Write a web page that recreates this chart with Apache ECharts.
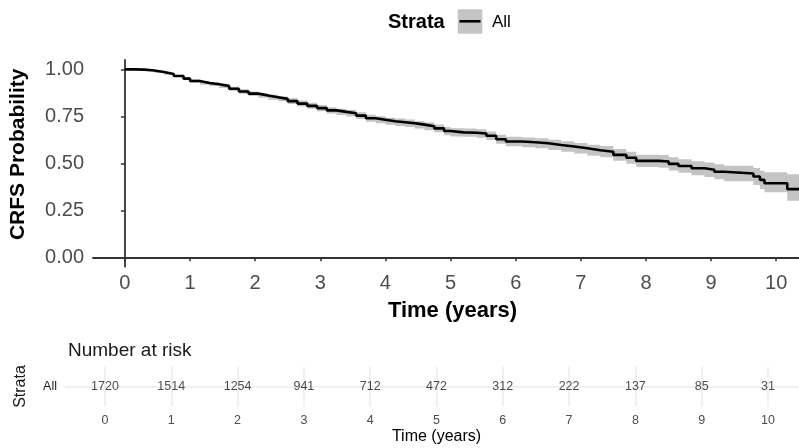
<!DOCTYPE html>
<html>
<head>
<meta charset="utf-8">
<title>CRFS</title>
<script src="https://cdn.jsdelivr.net/npm/echarts@6/dist/echarts.min.js"></script>
<style>
  html, body { margin: 0; padding: 0; background: #fff; }
  #main { width: 799px; height: 448px; }
</style>
</head>
<body>
<div id="main"></div>
<script>
// KM estimate (time in years, survival, 95% CI)
var times = [0, 0.15, 0.3, 0.45, 0.6, 0.75, 0.9, 1.0, 1.15, 1.3, 1.45, 1.6, 1.75, 1.9,
  2.05, 2.2, 2.35, 2.5, 2.65, 2.8, 2.95, 3.1, 3.25, 3.4, 3.55, 3.7, 3.85, 4.0,
  4.15, 4.3, 4.45, 4.6, 4.75, 4.9, 5.0, 5.2, 5.4, 5.55, 5.7, 5.85, 6.1, 6.3,
  6.5, 6.7, 6.9, 7.1, 7.3, 7.5, 7.7, 7.85, 8.2, 8.35, 8.5, 8.7, 8.9, 9.05,
  9.2, 9.65, 9.75, 9.82, 10.17, 10.4];
var surv = [1.000, 0.999, 0.994, 0.986, 0.976, 0.965, 0.951, 0.938, 0.928, 0.921, 0.912, 0.897, 0.882, 0.871,
  0.861, 0.852, 0.843, 0.831, 0.818, 0.806, 0.794, 0.782, 0.774, 0.767, 0.754, 0.740, 0.732, 0.724,
  0.719, 0.713, 0.706, 0.697, 0.686, 0.672, 0.665, 0.663, 0.659, 0.647, 0.628, 0.616, 0.612, 0.607,
  0.598, 0.590, 0.580, 0.570, 0.562, 0.545, 0.530, 0.513, 0.510, 0.497, 0.486, 0.474, 0.466, 0.455,
  0.446, 0.430, 0.412, 0.394, 0.363, 0.363];
var lower = [1.000, 0.998, 0.991, 0.982, 0.971, 0.959, 0.944, 0.929, 0.918, 0.911, 0.901, 0.886, 0.870, 0.859,
  0.849, 0.839, 0.830, 0.816, 0.802, 0.790, 0.777, 0.765, 0.757, 0.749, 0.736, 0.722, 0.713, 0.705,
  0.699, 0.693, 0.686, 0.676, 0.665, 0.650, 0.643, 0.641, 0.636, 0.624, 0.604, 0.591, 0.586, 0.581,
  0.571, 0.562, 0.552, 0.541, 0.532, 0.514, 0.498, 0.480, 0.476, 0.462, 0.450, 0.437, 0.428, 0.415,
  0.405, 0.385, 0.364, 0.346, 0.301, 0.301];
var upper = [1.000, 1.000, 0.997, 0.990, 0.981, 0.971, 0.958, 0.947, 0.938, 0.931, 0.923, 0.908, 0.894, 0.883,
  0.873, 0.865, 0.856, 0.846, 0.834, 0.822, 0.811, 0.799, 0.791, 0.785, 0.772, 0.758, 0.751, 0.743,
  0.739, 0.733, 0.726, 0.718, 0.707, 0.694, 0.687, 0.685, 0.682, 0.670, 0.652, 0.641, 0.638, 0.633,
  0.625, 0.618, 0.608, 0.599, 0.592, 0.576, 0.562, 0.546, 0.544, 0.532, 0.522, 0.511, 0.504, 0.495,
  0.487, 0.475, 0.460, 0.452, 0.442, 0.442];

// risk table
var riskTimes = [0, 1, 2, 3, 4, 5, 6, 7, 8, 9, 10];
var riskAll = [1720, 1514, 1254, 941, 712, 472, 312, 222, 137, 85, 31];

var yTicks = [0, 0.25, 0.5, 0.75, 1];
var xTicks = [0, 1, 2, 3, 4, 5, 6, 7, 8, 9, 10];

var font = "'Liberation Sans', Arial, sans-serif";
var chart = echarts.init(document.getElementById('main'), null, { renderer: 'canvas' });

// step outline of the confidence band, upper edge forward then lower edge back
function bandItem(params, api) {
  var pts = [];
  var n = times.length;
  for (var i = 0; i < n; i++) {
    pts.push(api.coord([times[i], upper[i]]));
    if (i < n - 1) pts.push(api.coord([times[i + 1], upper[i]]));
  }
  for (var j = n - 1; j >= 0; j--) {
    if (j < n - 1) pts.push(api.coord([times[j + 1], lower[j]]));
    pts.push(api.coord([times[j], lower[j]]));
  }
  return { type: 'polygon', shape: { points: pts }, style: { fill: '#c4c4c4' } };
}

var option = {
  animation: false,
  textStyle: { fontFamily: font },
  grid: [
    { left: 92, right: 0, top: 60, bottom: 181.3 },
    { left: 65, right: 0, top: 366.7, bottom: 41.3 }
  ],
  xAxis: [{
    gridIndex: 0, type: 'value', min: -0.49, max: 10.35,
    name: 'Time (years)', nameLocation: 'middle', nameGap: 33,
    nameTextStyle: { fontSize: 22, fontWeight: 'bold', color: '#000', padding: [0, 0, 0, 13] },
    axisLine: { show: true, lineStyle: { color: '#333', width: 1.8 } },
    axisTick: { show: true, length: 4, customValues: xTicks, lineStyle: { color: '#333', width: 1.5 } },
    axisLabel: { customValues: xTicks, fontSize: 20, color: '#4d4d4d', margin: 7 },
    splitLine: { show: false }
  }, {
    gridIndex: 1, type: 'value', min: -0.603, max: 10.468,
    name: 'Time (years)', nameLocation: 'middle', nameGap: 22,
    nameTextStyle: { fontSize: 16, color: '#000', padding: [0, 0, 0, 9] },
    axisLine: { show: false },
    axisTick: { show: false, customValues: riskTimes },
    axisLabel: { customValues: riskTimes, fontSize: 12.5, color: '#4d4d4d', margin: 7 },
    splitLine: { show: true, lineStyle: { color: '#ebebeb', width: 1.5 } }
  }],
  yAxis: [{
    gridIndex: 0, type: 'value', min: -0.05, max: 1.05,
    name: 'CRFS Probability', nameLocation: 'middle', nameGap: 64, nameRotate: 90,
    nameTextStyle: { fontSize: 21, fontWeight: 'bold', color: '#000', padding: [0, 0, 0, 18] },
    axisLine: { show: true, lineStyle: { color: '#333', width: 1.8 } },
    axisTick: { show: true, length: 4, customValues: yTicks, lineStyle: { color: '#333', width: 1.5 } },
    axisLabel: {
      customValues: yTicks, fontSize: 20, color: '#4d4d4d', margin: 9,
      formatter: function (v) { return v.toFixed(2); }
    },
    splitLine: { show: false }
  }, {
    gridIndex: 1, type: 'value', min: 0, max: 2,
    axisLine: { show: false },
    axisTick: { show: false, customValues: [1] },
    axisLabel: { customValues: [1], fontSize: 12.5, color: '#1a1a1a', margin: 8,
      formatter: function () { return 'All'; } },
    splitLine: { show: true, lineStyle: { color: '#ebebeb', width: 1.5 } }
  }],
  title: [{
    text: 'Number at risk', left: 63, top: 336,
    textStyle: { fontSize: 19, fontWeight: 'normal', color: '#1a1a1a', fontFamily: font }
  }],
  graphic: [
    { type: 'text', x: 388, y: 22, style: { text: 'Strata', font: 'bold 20px ' + font, fill: '#000', verticalAlign: 'middle' } },
    { type: 'rect', shape: { x: 457.7, y: 9.3, width: 24.6, height: 24.4 }, style: { fill: '#c4c4c4' } },
    { type: 'line', shape: { x1: 459.5, y1: 21.3, x2: 480.5, y2: 21.3 }, style: { stroke: '#000', lineWidth: 2.6 } },
    { type: 'text', x: 492, y: 22, style: { text: 'All', font: '17px ' + font, fill: '#000', verticalAlign: 'middle' } },
    { type: 'text', x: 21, y: 386.5, rotation: Math.PI / 2,
      style: { text: 'Strata', font: '16px ' + font, fill: '#1a1a1a', align: 'center', verticalAlign: 'middle' } }
  ],
  series: [{
    name: 'band', type: 'custom', xAxisIndex: 0, yAxisIndex: 0, clip: true, silent: true,
    renderItem: bandItem, data: [0]
  }, {
    name: 'All', type: 'line', xAxisIndex: 0, yAxisIndex: 0, z: 5,
    step: 'end', symbol: 'none', lineStyle: { color: '#000', width: 2.6 },
    data: times.map(function (t, i) { return [t, surv[i]]; })
  }, {
    name: 'risk', type: 'scatter', xAxisIndex: 1, yAxisIndex: 1,
    symbolSize: 1, itemStyle: { color: 'rgba(0,0,0,0)' },
    label: { show: true, position: 'inside', fontSize: 12.5, color: '#1a1a1a',
      formatter: function (p) { return p.value[2]; } },
    data: riskTimes.map(function (t, i) { return [t, 1, riskAll[i]]; })
  }]
};

chart.setOption(option);
</script>
</body>
</html>
